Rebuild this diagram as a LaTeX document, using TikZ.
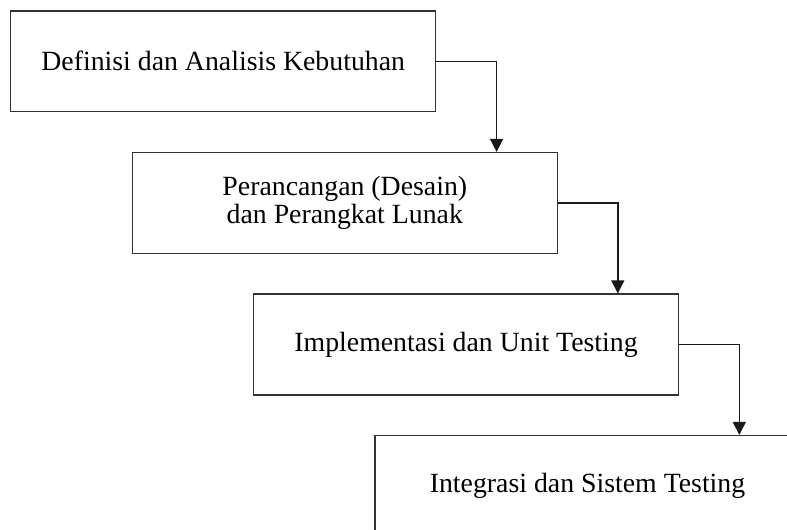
\documentclass[tikz,border=0pt]{standalone}
\usepackage{fontspec}
\setmainfont{Liberation Serif}
\usetikzlibrary{arrows.meta}
\begin{document}
\begin{tikzpicture}[x=1pt,y=-1pt,
  stagebox/.style={draw=black!80,line width=1.5pt,minimum width=425pt,minimum height=100.7pt,
    inner sep=0pt,align=center,font=\fontsize{27.8}{28.5}\selectfont},
  flow/.style={draw=black!90,line width=1.4pt,-{Triangle[width=13pt,length=13pt]}}]
\useasboundingbox (0,0) rectangle (787,530);
\clip (0,0) rectangle (787,530);
\fill[white] (0,0) rectangle (787,530);
\node[stagebox] (b1) at (223.2,61.3) {Definisi dan Analisis Kebutuhan};
\node[stagebox] (b2) at (344.8,203) {Perancangan (Desain)\\dan Perangkat Lunak};
\node[stagebox] (b3) at (466,344.5) {Implementasi dan Unit Testing};
\node[stagebox] (b4) at (587.5,486) {Integrasi dan Sistem Testing};
\draw[flow] (b1.east) -| ([xshift=151.8pt]b2.north);
\draw[flow] (b2.east) -| ([xshift=151.8pt]b3.north);
\draw[flow] (b3.east) -| ([xshift=151.8pt]b4.north);
\end{tikzpicture}
\end{document}
